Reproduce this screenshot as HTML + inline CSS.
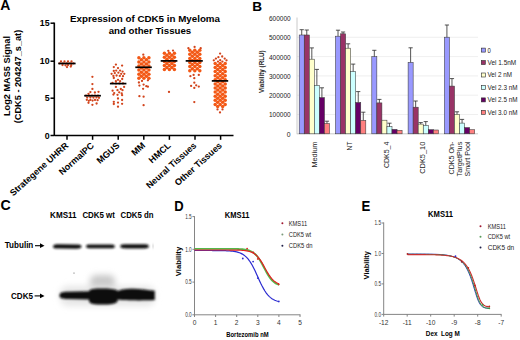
<!DOCTYPE html>
<html><head><meta charset="utf-8"><style>
html,body{margin:0;padding:0;background:#fff;width:520px;height:340px;overflow:hidden}
svg{display:block}
text{font-family:"Liberation Sans",sans-serif}
</style></head><body>
<svg width="520" height="340" viewBox="0 0 520 340">
<rect width="520" height="340" fill="#fff"/>
<text x="0.20" y="10.10" font-size="14" font-weight="bold" >A</text>
<text x="70.00" y="22.00" font-size="9.7" font-weight="bold" textLength="150" lengthAdjust="spacingAndGlyphs" >Expression of CDK5 in Myeloma</text>
<text x="108.70" y="34.00" font-size="9.7" font-weight="bold" textLength="82.5" lengthAdjust="spacingAndGlyphs" >and other Tissues</text>
<text x="10.00" y="76.00" font-size="9.2" font-weight="bold" text-anchor="middle" textLength="80" lengthAdjust="spacingAndGlyphs" transform="rotate(-90 10.00 76.00)" >Log2 MAS5 Signal</text>
<text x="21.00" y="76.50" font-size="9.2" font-weight="bold" text-anchor="middle" textLength="93.5" lengthAdjust="spacingAndGlyphs" transform="rotate(-90 21.00 76.50)" >(CDK5 - 204247_s_at)</text>
<path d="M54.3 22.5V136 M54.3 135.5H233.5" stroke="#000" stroke-width="1.6" fill="none"/>
<path d="M50.5 23.2H54" stroke="#000" stroke-width="1.5"/>
<text x="49.60" y="26.40" font-size="8.8" font-weight="bold" text-anchor="end" >15</text>
<path d="M50.5 61.2H54" stroke="#000" stroke-width="1.5"/>
<text x="49.60" y="64.40" font-size="8.8" font-weight="bold" text-anchor="end" >10</text>
<path d="M50.5 98.2H54" stroke="#000" stroke-width="1.5"/>
<text x="49.60" y="101.40" font-size="8.8" font-weight="bold" text-anchor="end" >5</text>
<path d="M50.5 135.5H54" stroke="#000" stroke-width="1.5"/>
<text x="49.60" y="138.70" font-size="8.8" font-weight="bold" text-anchor="end" >0</text>
<path d="M67.0 135.5V139.8" stroke="#000" stroke-width="1.5"/>
<path d="M92.6 135.5V139.8" stroke="#000" stroke-width="1.5"/>
<path d="M118.2 135.5V139.8" stroke="#000" stroke-width="1.5"/>
<path d="M143.8 135.5V139.8" stroke="#000" stroke-width="1.5"/>
<path d="M169.4 135.5V139.8" stroke="#000" stroke-width="1.5"/>
<path d="M195.0 135.5V139.8" stroke="#000" stroke-width="1.5"/>
<path d="M220.6 135.5V139.8" stroke="#000" stroke-width="1.5"/>
<text x="69.00" y="146.30" font-size="9.0" font-weight="bold" text-anchor="end" transform="rotate(-42 69.00 146.30)" >Strategene UHRR</text>
<text x="94.60" y="146.30" font-size="9.0" font-weight="bold" text-anchor="end" transform="rotate(-42 94.60 146.30)" >NormalPC</text>
<text x="120.20" y="146.30" font-size="9.0" font-weight="bold" text-anchor="end" transform="rotate(-42 120.20 146.30)" >MGUS</text>
<text x="145.80" y="146.30" font-size="9.0" font-weight="bold" text-anchor="end" transform="rotate(-42 145.80 146.30)" >MM</text>
<text x="171.40" y="146.30" font-size="9.0" font-weight="bold" text-anchor="end" transform="rotate(-42 171.40 146.30)" >HMCL</text>
<text x="197.00" y="146.30" font-size="9.0" font-weight="bold" text-anchor="end" transform="rotate(-42 197.00 146.30)" >Neural Tissues</text>
<text x="222.60" y="146.30" font-size="9.0" font-weight="bold" text-anchor="end" transform="rotate(-42 222.60 146.30)" >Other Tissues</text>
<g fill="#f35815">
<circle cx="138.90" cy="57.80" r="1.75"/>
<circle cx="143.90" cy="57.80" r="1.75"/>
<circle cx="148.90" cy="57.80" r="1.75"/>
<circle cx="141.40" cy="59.85" r="1.75"/>
<circle cx="146.40" cy="59.85" r="1.75"/>
<circle cx="138.90" cy="61.90" r="1.75"/>
<circle cx="143.90" cy="61.90" r="1.75"/>
<circle cx="148.90" cy="61.90" r="1.75"/>
<circle cx="141.40" cy="63.95" r="1.75"/>
<circle cx="146.40" cy="63.95" r="1.75"/>
<circle cx="138.90" cy="66.00" r="1.75"/>
<circle cx="143.90" cy="66.00" r="1.75"/>
<circle cx="148.90" cy="66.00" r="1.75"/>
<circle cx="141.40" cy="68.05" r="1.75"/>
<circle cx="146.40" cy="68.05" r="1.75"/>
<circle cx="138.90" cy="70.10" r="1.75"/>
<circle cx="143.90" cy="70.10" r="1.75"/>
<circle cx="148.90" cy="70.10" r="1.75"/>
<circle cx="141.40" cy="72.15" r="1.75"/>
<circle cx="146.40" cy="72.15" r="1.75"/>
<circle cx="138.90" cy="74.20" r="1.75"/>
<circle cx="143.90" cy="74.20" r="1.75"/>
<circle cx="148.90" cy="74.20" r="1.75"/>
<circle cx="141.40" cy="76.25" r="1.75"/>
<circle cx="146.40" cy="76.25" r="1.75"/>
<circle cx="138.90" cy="78.30" r="1.75"/>
<circle cx="143.90" cy="78.30" r="1.75"/>
<circle cx="148.90" cy="78.30" r="1.75"/>
<circle cx="164.40" cy="53.20" r="1.75"/>
<circle cx="169.40" cy="53.20" r="1.75"/>
<circle cx="174.40" cy="53.20" r="1.75"/>
<circle cx="166.90" cy="55.25" r="1.75"/>
<circle cx="171.90" cy="55.25" r="1.75"/>
<circle cx="164.40" cy="57.30" r="1.75"/>
<circle cx="169.40" cy="57.30" r="1.75"/>
<circle cx="174.40" cy="57.30" r="1.75"/>
<circle cx="166.90" cy="59.35" r="1.75"/>
<circle cx="171.90" cy="59.35" r="1.75"/>
<circle cx="164.40" cy="61.40" r="1.75"/>
<circle cx="169.40" cy="61.40" r="1.75"/>
<circle cx="174.40" cy="61.40" r="1.75"/>
<circle cx="166.90" cy="63.45" r="1.75"/>
<circle cx="171.90" cy="63.45" r="1.75"/>
<circle cx="164.40" cy="65.50" r="1.75"/>
<circle cx="169.40" cy="65.50" r="1.75"/>
<circle cx="174.40" cy="65.50" r="1.75"/>
<circle cx="166.90" cy="67.55" r="1.75"/>
<circle cx="171.90" cy="67.55" r="1.75"/>
<circle cx="164.40" cy="69.60" r="1.75"/>
<circle cx="169.40" cy="69.60" r="1.75"/>
<circle cx="174.40" cy="69.60" r="1.75"/>
<circle cx="189.80" cy="50.20" r="1.75"/>
<circle cx="194.80" cy="50.20" r="1.75"/>
<circle cx="199.80" cy="50.20" r="1.75"/>
<circle cx="192.30" cy="52.25" r="1.75"/>
<circle cx="197.30" cy="52.25" r="1.75"/>
<circle cx="189.80" cy="54.30" r="1.75"/>
<circle cx="194.80" cy="54.30" r="1.75"/>
<circle cx="199.80" cy="54.30" r="1.75"/>
<circle cx="192.30" cy="56.35" r="1.75"/>
<circle cx="197.30" cy="56.35" r="1.75"/>
<circle cx="189.80" cy="58.40" r="1.75"/>
<circle cx="194.80" cy="58.40" r="1.75"/>
<circle cx="199.80" cy="58.40" r="1.75"/>
<circle cx="192.30" cy="60.45" r="1.75"/>
<circle cx="197.30" cy="60.45" r="1.75"/>
<circle cx="189.80" cy="62.50" r="1.75"/>
<circle cx="194.80" cy="62.50" r="1.75"/>
<circle cx="199.80" cy="62.50" r="1.75"/>
<circle cx="192.30" cy="64.55" r="1.75"/>
<circle cx="197.30" cy="64.55" r="1.75"/>
<circle cx="189.80" cy="66.60" r="1.75"/>
<circle cx="194.80" cy="66.60" r="1.75"/>
<circle cx="199.80" cy="66.60" r="1.75"/>
<circle cx="192.30" cy="68.65" r="1.75"/>
<circle cx="197.30" cy="68.65" r="1.75"/>
<circle cx="189.80" cy="70.70" r="1.75"/>
<circle cx="194.80" cy="70.70" r="1.75"/>
<circle cx="199.80" cy="70.70" r="1.75"/>
<circle cx="215.20" cy="63.40" r="1.75"/>
<circle cx="220.20" cy="63.40" r="1.75"/>
<circle cx="225.20" cy="63.40" r="1.75"/>
<circle cx="217.70" cy="65.45" r="1.75"/>
<circle cx="222.70" cy="65.45" r="1.75"/>
<circle cx="215.20" cy="67.50" r="1.75"/>
<circle cx="220.20" cy="67.50" r="1.75"/>
<circle cx="225.20" cy="67.50" r="1.75"/>
<circle cx="217.70" cy="69.55" r="1.75"/>
<circle cx="222.70" cy="69.55" r="1.75"/>
<circle cx="215.20" cy="71.60" r="1.75"/>
<circle cx="220.20" cy="71.60" r="1.75"/>
<circle cx="225.20" cy="71.60" r="1.75"/>
<circle cx="217.70" cy="73.65" r="1.75"/>
<circle cx="222.70" cy="73.65" r="1.75"/>
<circle cx="215.20" cy="75.70" r="1.75"/>
<circle cx="220.20" cy="75.70" r="1.75"/>
<circle cx="225.20" cy="75.70" r="1.75"/>
<circle cx="217.70" cy="77.75" r="1.75"/>
<circle cx="222.70" cy="77.75" r="1.75"/>
<circle cx="215.20" cy="79.80" r="1.75"/>
<circle cx="220.20" cy="79.80" r="1.75"/>
<circle cx="225.20" cy="79.80" r="1.75"/>
<circle cx="217.70" cy="81.85" r="1.75"/>
<circle cx="222.70" cy="81.85" r="1.75"/>
<circle cx="215.20" cy="83.90" r="1.75"/>
<circle cx="220.20" cy="83.90" r="1.75"/>
<circle cx="225.20" cy="83.90" r="1.75"/>
<circle cx="217.70" cy="85.95" r="1.75"/>
<circle cx="222.70" cy="85.95" r="1.75"/>
<circle cx="215.20" cy="88.00" r="1.75"/>
<circle cx="220.20" cy="88.00" r="1.75"/>
<circle cx="225.20" cy="88.00" r="1.75"/>
<circle cx="217.70" cy="90.05" r="1.75"/>
<circle cx="222.70" cy="90.05" r="1.75"/>
<circle cx="215.20" cy="92.10" r="1.75"/>
<circle cx="220.20" cy="92.10" r="1.75"/>
<circle cx="225.20" cy="92.10" r="1.75"/>
<circle cx="217.70" cy="94.15" r="1.75"/>
<circle cx="222.70" cy="94.15" r="1.75"/>
<circle cx="215.20" cy="96.20" r="1.75"/>
<circle cx="220.20" cy="96.20" r="1.75"/>
<circle cx="225.20" cy="96.20" r="1.75"/>
<circle cx="217.70" cy="98.25" r="1.75"/>
<circle cx="222.70" cy="98.25" r="1.75"/>
<circle cx="215.20" cy="100.30" r="1.75"/>
<circle cx="220.20" cy="100.30" r="1.75"/>
<circle cx="225.20" cy="100.30" r="1.75"/>
<circle cx="217.70" cy="102.35" r="1.75"/>
<circle cx="222.70" cy="102.35" r="1.75"/>
<circle cx="215.20" cy="104.40" r="1.75"/>
<circle cx="220.20" cy="104.40" r="1.75"/>
<circle cx="225.20" cy="104.40" r="1.75"/>
<circle cx="217.70" cy="106.45" r="1.75"/>
<circle cx="222.70" cy="106.45" r="1.75"/>
</g>
<g fill="#d2441c">
<circle cx="61.00" cy="61.50" r="1.15"/>
<circle cx="64.50" cy="61.50" r="1.15"/>
<circle cx="68.00" cy="61.50" r="1.15"/>
<circle cx="71.50" cy="61.50" r="1.15"/>
<circle cx="59.50" cy="63.30" r="1.15"/>
<circle cx="63.00" cy="63.30" r="1.15"/>
<circle cx="66.50" cy="63.30" r="1.15"/>
<circle cx="70.00" cy="63.30" r="1.15"/>
<circle cx="73.50" cy="63.30" r="1.15"/>
<circle cx="62.50" cy="65.10" r="1.15"/>
<circle cx="65.50" cy="65.30" r="1.15"/>
<circle cx="68.00" cy="65.10" r="1.15"/>
<circle cx="71.30" cy="65.10" r="1.15"/>
<circle cx="67.00" cy="67.10" r="1.15"/>
<circle cx="70.80" cy="66.50" r="1.15"/>
<circle cx="92.40" cy="76.80" r="1.15"/>
<circle cx="92.40" cy="84.10" r="1.15"/>
<circle cx="92.40" cy="88.90" r="1.15"/>
<circle cx="90.40" cy="92.10" r="1.15"/>
<circle cx="94.90" cy="92.50" r="1.15"/>
<circle cx="98.50" cy="91.80" r="1.15"/>
<circle cx="88.50" cy="93.80" r="1.15"/>
<circle cx="86.00" cy="95.60" r="1.15"/>
<circle cx="89.00" cy="95.60" r="1.15"/>
<circle cx="92.00" cy="95.60" r="1.15"/>
<circle cx="95.00" cy="95.60" r="1.15"/>
<circle cx="98.00" cy="95.60" r="1.15"/>
<circle cx="87.20" cy="97.60" r="1.15"/>
<circle cx="90.40" cy="97.40" r="1.15"/>
<circle cx="93.40" cy="97.60" r="1.15"/>
<circle cx="96.50" cy="97.40" r="1.15"/>
<circle cx="99.00" cy="97.80" r="1.15"/>
<circle cx="90.40" cy="99.90" r="1.15"/>
<circle cx="95.00" cy="99.90" r="1.15"/>
<circle cx="86.80" cy="99.80" r="1.15"/>
<circle cx="88.80" cy="100.80" r="1.15"/>
<circle cx="92.60" cy="100.60" r="1.15"/>
<circle cx="97.60" cy="100.20" r="1.15"/>
<circle cx="88.50" cy="102.80" r="1.15"/>
<circle cx="92.40" cy="104.80" r="1.15"/>
<circle cx="96.60" cy="103.50" r="1.15"/>
<circle cx="115.90" cy="64.60" r="1.15"/>
<circle cx="122.10" cy="65.60" r="1.15"/>
<circle cx="113.80" cy="67.10" r="1.15"/>
<circle cx="118.00" cy="68.10" r="1.15"/>
<circle cx="113.80" cy="70.90" r="1.15"/>
<circle cx="116.20" cy="70.60" r="1.15"/>
<circle cx="120.10" cy="70.60" r="1.15"/>
<circle cx="122.60" cy="71.60" r="1.15"/>
<circle cx="111.60" cy="73.80" r="1.15"/>
<circle cx="114.80" cy="73.10" r="1.15"/>
<circle cx="118.40" cy="72.70" r="1.15"/>
<circle cx="121.20" cy="73.80" r="1.15"/>
<circle cx="124.30" cy="73.80" r="1.15"/>
<circle cx="113.40" cy="75.90" r="1.15"/>
<circle cx="116.60" cy="75.50" r="1.15"/>
<circle cx="119.80" cy="75.90" r="1.15"/>
<circle cx="123.00" cy="76.20" r="1.15"/>
<circle cx="113.80" cy="78.00" r="1.15"/>
<circle cx="118.00" cy="79.80" r="1.15"/>
<circle cx="122.20" cy="79.00" r="1.15"/>
<circle cx="115.90" cy="81.20" r="1.15"/>
<circle cx="120.10" cy="81.20" r="1.15"/>
<circle cx="112.50" cy="83.00" r="1.15"/>
<circle cx="116.00" cy="83.40" r="1.15"/>
<circle cx="119.50" cy="83.40" r="1.15"/>
<circle cx="123.00" cy="83.40" r="1.15"/>
<circle cx="115.90" cy="86.90" r="1.15"/>
<circle cx="124.10" cy="86.90" r="1.15"/>
<circle cx="112.60" cy="90.70" r="1.15"/>
<circle cx="117.50" cy="90.20" r="1.15"/>
<circle cx="120.80" cy="89.00" r="1.15"/>
<circle cx="122.50" cy="90.20" r="1.15"/>
<circle cx="114.20" cy="93.10" r="1.15"/>
<circle cx="119.20" cy="92.30" r="1.15"/>
<circle cx="121.70" cy="93.50" r="1.15"/>
<circle cx="113.40" cy="94.60" r="1.15"/>
<circle cx="117.50" cy="94.80" r="1.15"/>
<circle cx="122.10" cy="95.20" r="1.15"/>
<circle cx="118.00" cy="98.50" r="1.15"/>
<circle cx="122.10" cy="100.00" r="1.15"/>
<circle cx="113.80" cy="101.80" r="1.15"/>
<circle cx="118.00" cy="102.60" r="1.15"/>
<circle cx="122.10" cy="103.80" r="1.15"/>
<circle cx="113.80" cy="104.00" r="1.15"/>
<circle cx="118.00" cy="106.70" r="1.15"/>
<circle cx="143.30" cy="54.70" r="1.15"/>
<circle cx="138.90" cy="82.50" r="1.15"/>
<circle cx="142.00" cy="80.90" r="1.15"/>
<circle cx="147.90" cy="80.30" r="1.15"/>
<circle cx="139.40" cy="85.60" r="1.15"/>
<circle cx="143.60" cy="84.60" r="1.15"/>
<circle cx="146.30" cy="86.20" r="1.15"/>
<circle cx="147.90" cy="86.70" r="1.15"/>
<circle cx="143.10" cy="88.80" r="1.15"/>
<circle cx="139.40" cy="96.20" r="1.15"/>
<circle cx="143.60" cy="96.70" r="1.15"/>
<circle cx="143.60" cy="105.20" r="1.15"/>
<circle cx="168.30" cy="50.80" r="1.15"/>
<circle cx="173.00" cy="50.60" r="1.15"/>
<circle cx="169.00" cy="91.90" r="1.15"/>
<circle cx="188.40" cy="48.20" r="1.15"/>
<circle cx="194.60" cy="46.90" r="1.15"/>
<circle cx="200.70" cy="48.20" r="1.15"/>
<circle cx="190.40" cy="76.20" r="1.15"/>
<circle cx="193.60" cy="74.90" r="1.15"/>
<circle cx="198.80" cy="74.90" r="1.15"/>
<circle cx="194.30" cy="78.20" r="1.15"/>
<circle cx="194.30" cy="82.70" r="1.15"/>
<circle cx="191.10" cy="85.90" r="1.15"/>
<circle cx="196.20" cy="85.30" r="1.15"/>
<circle cx="198.80" cy="86.60" r="1.15"/>
<circle cx="194.30" cy="87.90" r="1.15"/>
<circle cx="194.30" cy="102.10" r="1.15"/>
<circle cx="220.10" cy="53.60" r="1.15"/>
<circle cx="222.20" cy="56.50" r="1.15"/>
<circle cx="218.40" cy="57.20" r="1.15"/>
<circle cx="224.70" cy="58.60" r="1.15"/>
<circle cx="215.90" cy="58.60" r="1.15"/>
<circle cx="213.80" cy="60.30" r="1.15"/>
<circle cx="226.50" cy="60.30" r="1.15"/>
<circle cx="220.20" cy="60.20" r="1.15"/>
<circle cx="218.00" cy="61.60" r="1.15"/>
<circle cx="222.40" cy="61.60" r="1.15"/>
<circle cx="220.00" cy="112.40" r="1.15"/>
<circle cx="217.50" cy="109.40" r="1.15"/>
<circle cx="222.50" cy="109.40" r="1.15"/>
</g>
<path d="M58.3 63.5H75.6" stroke="#000" stroke-width="1.7"/>
<path d="M84.2 95.7H100.9" stroke="#000" stroke-width="1.7"/>
<path d="M109.9 83.6H126.4" stroke="#000" stroke-width="1.7"/>
<path d="M135.3 67.3H151.8" stroke="#000" stroke-width="1.7"/>
<path d="M160.7 60.9H177.4" stroke="#000" stroke-width="1.7"/>
<path d="M185.7 60.9H202.8" stroke="#000" stroke-width="1.7"/>
<path d="M211.8 80.9H228.2" stroke="#000" stroke-width="1.7"/>
<text x="252.20" y="10.60" font-size="13.6" font-weight="bold" >B</text>
<path d="M297 114.5H478" stroke="#ebebeb" stroke-width="0.8"/>
<path d="M297 95.2H478" stroke="#ebebeb" stroke-width="0.8"/>
<path d="M297 75.9H478" stroke="#ebebeb" stroke-width="0.8"/>
<path d="M297 56.6H478" stroke="#ebebeb" stroke-width="0.8"/>
<path d="M297 37.3H478" stroke="#ebebeb" stroke-width="0.8"/>
<path d="M297 17.5V134.20000000000002 M297 133.8H478" stroke="#bdbdbd" stroke-width="0.8" fill="none"/>
<text x="290.60" y="136.70" font-size="6.8" fill="#222" text-anchor="end" >0</text>
<text x="290.60" y="117.40" font-size="6.8" fill="#222" text-anchor="end" textLength="21.6" lengthAdjust="spacingAndGlyphs" >100000</text>
<text x="290.60" y="98.10" font-size="6.8" fill="#222" text-anchor="end" textLength="21.6" lengthAdjust="spacingAndGlyphs" >200000</text>
<text x="290.60" y="78.80" font-size="6.8" fill="#222" text-anchor="end" textLength="21.6" lengthAdjust="spacingAndGlyphs" >300000</text>
<text x="290.60" y="59.50" font-size="6.8" fill="#222" text-anchor="end" textLength="21.6" lengthAdjust="spacingAndGlyphs" >400000</text>
<text x="290.60" y="40.20" font-size="6.8" fill="#222" text-anchor="end" textLength="21.6" lengthAdjust="spacingAndGlyphs" >500000</text>
<text x="290.60" y="20.90" font-size="6.8" fill="#222" text-anchor="end" textLength="21.6" lengthAdjust="spacingAndGlyphs" >600000</text>
<text x="264.30" y="71.70" font-size="6.5" font-weight="bold" fill="#222" text-anchor="middle" textLength="42.8" lengthAdjust="spacingAndGlyphs" transform="rotate(-90 264.30 71.70)" >Viability (RLU)</text>
<rect x="299.20" y="35" width="5.05" height="98.80" fill="#9999ff" stroke="#3a3a3a" stroke-width="0.55"/>
<rect x="304.25" y="35" width="5.05" height="98.80" fill="#993366" stroke="#3a3a3a" stroke-width="0.55"/>
<rect x="309.30" y="59.2" width="5.05" height="74.60" fill="#ffffcc" stroke="#3a3a3a" stroke-width="0.55"/>
<rect x="314.35" y="85.4" width="5.05" height="48.40" fill="#ccffff" stroke="#3a3a3a" stroke-width="0.55"/>
<rect x="319.40" y="97.6" width="5.05" height="36.20" fill="#660066" stroke="#3a3a3a" stroke-width="0.55"/>
<rect x="324.45" y="123.5" width="5.05" height="10.30" fill="#ff8080" stroke="#3a3a3a" stroke-width="0.55"/>
<path d="M301.72 35V29.7 M299.62 29.7H303.82" stroke="#2a2a2a" stroke-width="0.8" fill="none"/>
<path d="M306.77 35V30 M304.67 30H308.88" stroke="#2a2a2a" stroke-width="0.8" fill="none"/>
<path d="M311.82 59.2V47.9 M309.72 47.9H313.93" stroke="#2a2a2a" stroke-width="0.8" fill="none"/>
<path d="M316.87 85.4V69.4 M314.77 69.4H318.97" stroke="#2a2a2a" stroke-width="0.8" fill="none"/>
<path d="M321.92 97.6V87.8 M319.82 87.8H324.02" stroke="#2a2a2a" stroke-width="0.8" fill="none"/>
<path d="M326.97 123.5V121.2 M324.87 121.2H329.07" stroke="#2a2a2a" stroke-width="0.8" fill="none"/>
<rect x="335.50" y="36.2" width="5.05" height="97.60" fill="#9999ff" stroke="#3a3a3a" stroke-width="0.55"/>
<rect x="340.55" y="33.8" width="5.05" height="100.00" fill="#993366" stroke="#3a3a3a" stroke-width="0.55"/>
<rect x="345.60" y="48.2" width="5.05" height="85.60" fill="#ffffcc" stroke="#3a3a3a" stroke-width="0.55"/>
<rect x="350.65" y="71.5" width="5.05" height="62.30" fill="#ccffff" stroke="#3a3a3a" stroke-width="0.55"/>
<rect x="355.70" y="102.5" width="5.05" height="31.30" fill="#660066" stroke="#3a3a3a" stroke-width="0.55"/>
<rect x="360.75" y="120.4" width="5.05" height="13.40" fill="#ff8080" stroke="#3a3a3a" stroke-width="0.55"/>
<path d="M338.02 36.2V30.2 M335.92 30.2H340.12" stroke="#2a2a2a" stroke-width="0.8" fill="none"/>
<path d="M343.07 33.8V32 M340.97 32H345.18" stroke="#2a2a2a" stroke-width="0.8" fill="none"/>
<path d="M348.12 48.2V43.8 M346.02 43.8H350.23" stroke="#2a2a2a" stroke-width="0.8" fill="none"/>
<path d="M353.17 71.5V64.1 M351.07 64.1H355.27" stroke="#2a2a2a" stroke-width="0.8" fill="none"/>
<path d="M358.22 102.5V91.6 M356.12 91.6H360.32" stroke="#2a2a2a" stroke-width="0.8" fill="none"/>
<path d="M363.27 120.4V112.2 M361.17 112.2H365.38" stroke="#2a2a2a" stroke-width="0.8" fill="none"/>
<rect x="371.80" y="56.7" width="5.05" height="77.10" fill="#9999ff" stroke="#3a3a3a" stroke-width="0.55"/>
<rect x="376.85" y="102.9" width="5.05" height="30.90" fill="#993366" stroke="#3a3a3a" stroke-width="0.55"/>
<rect x="381.90" y="120.2" width="5.05" height="13.60" fill="#ffffcc" stroke="#3a3a3a" stroke-width="0.55"/>
<rect x="386.95" y="126.7" width="5.05" height="7.10" fill="#ccffff" stroke="#3a3a3a" stroke-width="0.55"/>
<rect x="392.00" y="129.4" width="5.05" height="4.40" fill="#660066" stroke="#3a3a3a" stroke-width="0.55"/>
<rect x="397.05" y="130.3" width="5.05" height="3.50" fill="#ff8080" stroke="#3a3a3a" stroke-width="0.55"/>
<path d="M374.32 56.7V50.3 M372.22 50.3H376.42" stroke="#2a2a2a" stroke-width="0.8" fill="none"/>
<path d="M379.37 102.9V99.4 M377.27 99.4H381.47" stroke="#2a2a2a" stroke-width="0.8" fill="none"/>
<path d="M389.47 126.7V123.2 M387.37 123.2H391.57" stroke="#2a2a2a" stroke-width="0.8" fill="none"/>
<rect x="408.10" y="62.4" width="5.05" height="71.40" fill="#9999ff" stroke="#3a3a3a" stroke-width="0.55"/>
<rect x="413.15" y="107.2" width="5.05" height="26.60" fill="#993366" stroke="#3a3a3a" stroke-width="0.55"/>
<rect x="418.20" y="124.1" width="5.05" height="9.70" fill="#ffffcc" stroke="#3a3a3a" stroke-width="0.55"/>
<rect x="423.25" y="125.3" width="5.05" height="8.50" fill="#ccffff" stroke="#3a3a3a" stroke-width="0.55"/>
<rect x="428.30" y="129.7" width="5.05" height="4.10" fill="#660066" stroke="#3a3a3a" stroke-width="0.55"/>
<rect x="433.35" y="130" width="5.05" height="3.80" fill="#ff8080" stroke="#3a3a3a" stroke-width="0.55"/>
<path d="M410.62 62.4V47.8 M408.52 47.8H412.72" stroke="#2a2a2a" stroke-width="0.8" fill="none"/>
<path d="M415.67 107.2V101 M413.57 101H417.77" stroke="#2a2a2a" stroke-width="0.8" fill="none"/>
<path d="M420.72 124.1V122.6 M418.62 122.6H422.82" stroke="#2a2a2a" stroke-width="0.8" fill="none"/>
<path d="M425.77 125.3V121.6 M423.67 121.6H427.87" stroke="#2a2a2a" stroke-width="0.8" fill="none"/>
<rect x="444.40" y="37.2" width="5.05" height="96.60" fill="#9999ff" stroke="#3a3a3a" stroke-width="0.55"/>
<rect x="449.45" y="86.1" width="5.05" height="47.70" fill="#993366" stroke="#3a3a3a" stroke-width="0.55"/>
<rect x="454.50" y="114.3" width="5.05" height="19.50" fill="#ffffcc" stroke="#3a3a3a" stroke-width="0.55"/>
<rect x="459.55" y="123.1" width="5.05" height="10.70" fill="#ccffff" stroke="#3a3a3a" stroke-width="0.55"/>
<rect x="464.60" y="127.6" width="5.05" height="6.20" fill="#660066" stroke="#3a3a3a" stroke-width="0.55"/>
<rect x="469.65" y="129.7" width="5.05" height="4.10" fill="#ff8080" stroke="#3a3a3a" stroke-width="0.55"/>
<path d="M446.92 37.2V25 M444.82 25H449.02" stroke="#2a2a2a" stroke-width="0.8" fill="none"/>
<path d="M451.97 86.1V78.6 M449.87 78.6H454.07" stroke="#2a2a2a" stroke-width="0.8" fill="none"/>
<path d="M457.02 114.3V111.8 M454.92 111.8H459.12" stroke="#2a2a2a" stroke-width="0.8" fill="none"/>
<path d="M462.07 123.1V119.4 M459.97 119.4H464.17" stroke="#2a2a2a" stroke-width="0.8" fill="none"/>
<text x="317.20" y="141.60" font-size="6.9" fill="#222" text-anchor="end" textLength="26" lengthAdjust="spacingAndGlyphs" transform="rotate(-90 317.20 141.60)" >Medium</text>
<text x="352.50" y="141.60" font-size="6.9" fill="#222" text-anchor="end" textLength="8.8" lengthAdjust="spacingAndGlyphs" transform="rotate(-90 352.50 141.60)" >NT</text>
<text x="389.10" y="141.60" font-size="6.9" fill="#222" text-anchor="end" textLength="26.4" lengthAdjust="spacingAndGlyphs" transform="rotate(-90 389.10 141.60)" >CDK5_4</text>
<text x="425.10" y="141.60" font-size="6.9" fill="#222" text-anchor="end" textLength="32.2" lengthAdjust="spacingAndGlyphs" transform="rotate(-90 425.10 141.60)" >CDK5_10</text>
<text x="453.70" y="141.60" font-size="6.9" fill="#222" text-anchor="end" textLength="32.8" lengthAdjust="spacingAndGlyphs" transform="rotate(-90 453.70 141.60)" >CDK5 On-</text>
<text x="461.70" y="141.60" font-size="6.9" fill="#222" text-anchor="end" textLength="34.9" lengthAdjust="spacingAndGlyphs" transform="rotate(-90 461.70 141.60)" >TargetPlus</text>
<text x="469.70" y="141.60" font-size="6.9" fill="#222" text-anchor="end" textLength="34.9" lengthAdjust="spacingAndGlyphs" transform="rotate(-90 469.70 141.60)" >Smart Pool</text>
<rect x="481.3" y="48.10" width="4" height="4" fill="#9999ff" stroke="#2a2a2a" stroke-width="0.6"/>
<text x="487.50" y="52.50" font-size="6.7" fill="#222" textLength="3.3" lengthAdjust="spacingAndGlyphs" >0</text>
<rect x="481.3" y="60.55" width="4" height="4" fill="#993366" stroke="#2a2a2a" stroke-width="0.6"/>
<text x="487.50" y="64.95" font-size="6.7" fill="#222" textLength="28.7" lengthAdjust="spacingAndGlyphs" >Vel 1.5nM</text>
<rect x="481.3" y="73.00" width="4" height="4" fill="#ffffcc" stroke="#2a2a2a" stroke-width="0.6"/>
<text x="487.50" y="77.40" font-size="6.7" fill="#222" textLength="24.5" lengthAdjust="spacingAndGlyphs" >Vel 2 nM</text>
<rect x="481.3" y="85.45" width="4" height="4" fill="#ccffff" stroke="#2a2a2a" stroke-width="0.6"/>
<text x="487.50" y="89.85" font-size="6.7" fill="#222" textLength="30" lengthAdjust="spacingAndGlyphs" >Vel 2.3 nM</text>
<rect x="481.3" y="97.90" width="4" height="4" fill="#660066" stroke="#2a2a2a" stroke-width="0.6"/>
<text x="487.50" y="102.30" font-size="6.7" fill="#222" textLength="30" lengthAdjust="spacingAndGlyphs" >Vel 2.5 nM</text>
<rect x="481.3" y="110.35" width="4" height="4" fill="#ff8080" stroke="#2a2a2a" stroke-width="0.6"/>
<text x="487.50" y="114.75" font-size="6.7" fill="#222" textLength="30" lengthAdjust="spacingAndGlyphs" >Vel 3.0 nM</text>
<text x="0.50" y="209.90" font-size="14.2" font-weight="bold" >C</text>
<text x="50.10" y="217.80" font-size="8.7" font-weight="bold" textLength="26.5" lengthAdjust="spacingAndGlyphs" >KMS11</text>
<text x="82.40" y="217.80" font-size="8.7" font-weight="bold" textLength="32.5" lengthAdjust="spacingAndGlyphs" >CDK5 wt</text>
<text x="120.50" y="217.80" font-size="8.7" font-weight="bold" textLength="33" lengthAdjust="spacingAndGlyphs" >CDK5 dn</text>
<text x="4.80" y="247.90" font-size="8.6" font-weight="bold" textLength="28.5" lengthAdjust="spacingAndGlyphs" >Tubulin</text>
<path d="M35 245.7H41" stroke="#000" stroke-width="1.1"/><path d="M40 243.3L44.5 245.7L40 248.1Z" fill="#000"/>
<text x="11.00" y="298.90" font-size="8.6" font-weight="bold" textLength="22" lengthAdjust="spacingAndGlyphs" >CDK5</text>
<path d="M34.6 295.9H40.5" stroke="#000" stroke-width="1.1"/><path d="M40 293.5L44.5 295.9L40 298.3Z" fill="#000"/>
<defs>
<filter id="b1" x="-20%" y="-200%" width="140%" height="500%"><feGaussianBlur stdDeviation="0.9"/></filter>
<filter id="b2" x="-30%" y="-200%" width="160%" height="500%"><feGaussianBlur stdDeviation="2.2"/></filter>
<filter id="b3" x="-30%" y="-200%" width="160%" height="500%"><feGaussianBlur stdDeviation="1.2"/></filter>
<filter id="b4" x="-50%" y="-200%" width="200%" height="500%"><feGaussianBlur stdDeviation="3"/></filter>
</defs>
<g filter="url(#b1)" fill="#111">
<path d="M53 246.5 C53 244.2 56 244.1 60 244.2 L77 244.6 C81 244.7 81.5 245.5 81.5 246.6 C81.5 248 80 248.8 76 248.7 L58 248.6 C54 248.6 53 248 53 246.5Z"/>
<path d="M86 246.4 C86 244.6 88 244.5 92 244.5 L110 244.6 C114 244.6 114.8 245.3 114.8 246.4 C114.8 247.6 114 248.3 110 248.3 L92 248.3 C88 248.3 86 248 86 246.4Z"/>
<path d="M120.2 246.3 C120.2 244.4 123 244.2 127 244.2 L144 244.3 C148 244.3 148.8 245.2 148.8 246.3 C148.8 247.6 148 248.4 144 248.4 L126 248.4 C122 248.4 120.2 248 120.2 246.3Z"/>
</g>
<rect x="152.6" y="244.2" width="1" height="4" fill="#aaa" filter="url(#b1)"/>
<g filter="url(#b4)">
<rect x="90" y="275" width="25" height="16" rx="6" fill="#c8c8c8"/>
<rect x="60" y="286" width="95" height="20" rx="8" fill="#e6e6e6"/>
</g>
<g filter="url(#b3)" fill="#0c0c0c">
<path d="M59.5 295.6 C59.5 292.6 62 291.8 68 291.8 L91 291.2 L91 299.6 L68 299 C62 299 59.5 298.6 59.5 295.6Z"/>
<path d="M89 292 C89 289.5 92 288.8 100 288.6 C108 288.5 115 289 117.5 290.5 L117.5 301.5 C116 304 110 304.5 103 304.5 C95 304.5 89 304 89 301Z"/>
<path d="M116 292 C120 289.5 126 288.5 133 288.8 C140 289.2 148 290 154.8 290.8 L154.8 300 C148 300.3 140 300.5 132 300.3 C124 300 119 299.8 116 299.5Z"/>
</g>
<circle cx="74" cy="273" r="0.6" fill="#555"/>
<text x="174.30" y="210.90" font-size="14.6" font-weight="bold" textLength="9.4" lengthAdjust="spacingAndGlyphs" >D</text>
<path d="M194.5 216.2V314.8 H300.5" stroke="#777" stroke-width="0.9" fill="none"/>
<path d="M192.4 314.8H194.5" stroke="#777" stroke-width="0.9"/>
<text x="191.70" y="317.10" font-size="6.6" fill="#333" text-anchor="end" textLength="6.5" lengthAdjust="spacingAndGlyphs" >0.0</text>
<path d="M192.4 282.1H194.5" stroke="#777" stroke-width="0.9"/>
<text x="191.70" y="284.35" font-size="6.6" fill="#333" text-anchor="end" textLength="6.5" lengthAdjust="spacingAndGlyphs" >0.5</text>
<path d="M192.4 249.3H194.5" stroke="#777" stroke-width="0.9"/>
<text x="191.70" y="251.60" font-size="6.6" fill="#333" text-anchor="end" textLength="6.5" lengthAdjust="spacingAndGlyphs" >1.0</text>
<path d="M192.4 216.6H194.5" stroke="#777" stroke-width="0.9"/>
<text x="191.70" y="218.85" font-size="6.6" fill="#333" text-anchor="end" textLength="6.5" lengthAdjust="spacingAndGlyphs" >1.5</text>
<path d="M194.5 314.8V317.0" stroke="#777" stroke-width="0.9"/>
<text x="194.50" y="325.20" font-size="6.6" fill="#333" text-anchor="middle" >0</text>
<path d="M215.6 314.8V317.0" stroke="#777" stroke-width="0.9"/>
<text x="215.60" y="325.20" font-size="6.6" fill="#333" text-anchor="middle" >1</text>
<path d="M236.7 314.8V317.0" stroke="#777" stroke-width="0.9"/>
<text x="236.70" y="325.20" font-size="6.6" fill="#333" text-anchor="middle" >2</text>
<path d="M257.8 314.8V317.0" stroke="#777" stroke-width="0.9"/>
<text x="257.80" y="325.20" font-size="6.6" fill="#333" text-anchor="middle" >3</text>
<path d="M278.9 314.8V317.0" stroke="#777" stroke-width="0.9"/>
<text x="278.90" y="325.20" font-size="6.6" fill="#333" text-anchor="middle" >4</text>
<path d="M300.0 314.8V317.0" stroke="#777" stroke-width="0.9"/>
<text x="300.00" y="325.20" font-size="6.6" fill="#333" text-anchor="middle" >5</text>
<text x="224.70" y="217.90" font-size="8.2" font-weight="bold" textLength="24.7" lengthAdjust="spacingAndGlyphs" >KMS11</text>
<text x="181.40" y="261.50" font-size="7" font-weight="bold" text-anchor="middle" textLength="29.4" lengthAdjust="spacingAndGlyphs" transform="rotate(-90 181.40 261.50)" >Viability</text>
<text x="226.30" y="336.50" font-size="8" font-weight="bold" textLength="42.3" lengthAdjust="spacingAndGlyphs" >Bortezomib nM</text>
<polyline points="194.50,250.50 195.91,250.50 197.32,250.50 198.72,250.50 200.13,250.50 201.54,250.50 202.95,250.50 204.36,250.51 205.77,250.51 207.18,250.51 208.58,250.51 209.99,250.52 211.40,250.52 212.81,250.53 214.22,250.53 215.62,250.54 217.03,250.55 218.44,250.57 219.85,250.59 221.26,250.61 222.67,250.64 224.07,250.67 225.48,250.72 226.89,250.78 228.30,250.85 229.71,250.95 231.12,251.07 232.53,251.22 233.93,251.41 235.34,251.65 236.75,251.95 238.16,252.33 239.57,252.80 240.97,253.39 242.38,254.11 243.79,255.01 245.20,256.09 246.61,257.40 248.02,258.96 249.43,260.79 250.83,262.91 252.24,265.32 253.65,267.98 255.06,270.86 256.47,273.91 257.88,277.03 259.28,280.14 260.69,283.16 262.10,286.01 263.51,288.63 264.92,290.98 266.32,293.05 267.73,294.84 269.14,296.35 270.55,297.62 271.96,298.67 273.37,299.53 274.77,300.22 276.18,300.79 277.59,301.24 279.00,301.61" fill="none" stroke="#2b2bd0" stroke-width="1.2"/>
<polyline points="194.50,248.80 195.91,248.80 197.32,248.80 198.72,248.80 200.13,248.80 201.54,248.80 202.95,248.80 204.36,248.80 205.77,248.80 207.18,248.80 208.58,248.80 209.99,248.80 211.40,248.80 212.81,248.80 214.22,248.80 215.62,248.80 217.03,248.80 218.44,248.80 219.85,248.80 221.26,248.81 222.67,248.81 224.07,248.81 225.48,248.81 226.89,248.82 228.30,248.83 229.71,248.83 231.12,248.85 232.53,248.86 233.93,248.88 235.34,248.91 236.75,248.94 238.16,248.99 239.57,249.06 240.97,249.14 242.38,249.25 243.79,249.40 245.20,249.60 246.61,249.85 248.02,250.19 249.43,250.63 250.83,251.20 252.24,251.94 253.65,252.87 255.06,254.03 256.47,255.47 257.88,257.20 259.28,259.22 260.69,261.52 262.10,264.04 263.51,266.71 264.92,269.41 266.32,272.04 267.73,274.50 269.14,276.72 270.55,278.66 271.96,280.29 273.37,281.64 274.77,282.74 276.18,283.60 277.59,284.28 279.00,284.81" fill="none" stroke="#55b84a" stroke-width="1.8"/>
<polyline points="194.50,250.00 195.91,250.00 197.32,250.00 198.72,250.00 200.13,250.00 201.54,250.00 202.95,250.00 204.36,250.00 205.77,250.00 207.18,250.00 208.58,250.00 209.99,250.00 211.40,250.00 212.81,250.00 214.22,250.00 215.62,250.00 217.03,250.00 218.44,250.00 219.85,250.00 221.26,250.00 222.67,250.01 224.07,250.01 225.48,250.01 226.89,250.02 228.30,250.02 229.71,250.03 231.12,250.04 232.53,250.05 233.93,250.06 235.34,250.09 236.75,250.11 238.16,250.15 239.57,250.20 240.97,250.27 242.38,250.36 243.79,250.48 245.20,250.63 246.61,250.84 248.02,251.11 249.43,251.46 250.83,251.92 252.24,252.51 253.65,253.27 255.06,254.24 256.47,255.43 257.88,256.89 259.28,258.63 260.69,260.65 262.10,262.92 263.51,265.38 264.92,267.93 266.32,270.48 267.73,272.94 269.14,275.20 270.55,277.21 271.96,278.95 273.37,280.40 274.77,281.59 276.18,282.55 277.59,283.30 279.00,283.89" fill="none" stroke="#e02020" stroke-width="1.2"/>
<circle cx="247.1" cy="248.6" r="0.9" fill="#e02020"/>
<circle cx="253.3" cy="252.4" r="0.9" fill="#e02020"/>
<circle cx="257.8" cy="258.9" r="0.9" fill="#e02020"/>
<circle cx="278.8" cy="284.3" r="0.9" fill="#e02020"/>
<circle cx="242.8" cy="258.5" r="0.9" fill="#2b2bd0"/>
<circle cx="253.1" cy="261.6" r="0.9" fill="#2b2bd0"/>
<circle cx="257.8" cy="278.1" r="0.9" fill="#2b2bd0"/>
<circle cx="278.8" cy="301.4" r="0.9" fill="#2b2bd0"/>
<circle cx="282.4" cy="223.2" r="1.0" fill="#a01830"/>
<text x="288.80" y="225.50" font-size="6.6" fill="#222" textLength="18.3" lengthAdjust="spacingAndGlyphs" >KMS11</text>
<circle cx="282.4" cy="234.5" r="1.0" fill="#7a9a7a"/>
<text x="288.80" y="236.80" font-size="6.6" fill="#222" textLength="22.4" lengthAdjust="spacingAndGlyphs" >CDK5 wt</text>
<circle cx="282.4" cy="245.79999999999998" r="1.0" fill="#202048"/>
<text x="288.80" y="248.10" font-size="6.6" fill="#222" textLength="23.6" lengthAdjust="spacingAndGlyphs" >CDK5 dn</text>
<text x="361.40" y="210.80" font-size="14.6" font-weight="bold" textLength="8.8" lengthAdjust="spacingAndGlyphs" >E</text>
<path d="M383.7 222.4V314.4 H501.5" stroke="#777" stroke-width="0.9" fill="none"/>
<path d="M381.6 314.4H383.7" stroke="#777" stroke-width="0.9"/>
<text x="381.00" y="316.70" font-size="6.6" fill="#333" text-anchor="end" textLength="6.5" lengthAdjust="spacingAndGlyphs" >0.0</text>
<path d="M381.6 283.9H383.7" stroke="#777" stroke-width="0.9"/>
<text x="381.00" y="286.25" font-size="6.6" fill="#333" text-anchor="end" textLength="6.5" lengthAdjust="spacingAndGlyphs" >0.5</text>
<path d="M381.6 253.5H383.7" stroke="#777" stroke-width="0.9"/>
<text x="381.00" y="255.80" font-size="6.6" fill="#333" text-anchor="end" textLength="6.5" lengthAdjust="spacingAndGlyphs" >1.0</text>
<path d="M381.6 223.0H383.7" stroke="#777" stroke-width="0.9"/>
<text x="381.00" y="225.35" font-size="6.6" fill="#333" text-anchor="end" textLength="6.5" lengthAdjust="spacingAndGlyphs" >1.5</text>
<path d="M383.7 314.4V316.59999999999997" stroke="#777" stroke-width="0.9"/>
<text x="383.70" y="324.60" font-size="6.6" fill="#333" text-anchor="middle" >-12</text>
<path d="M407.2 314.4V316.59999999999997" stroke="#777" stroke-width="0.9"/>
<text x="407.20" y="324.60" font-size="6.6" fill="#333" text-anchor="middle" >-11</text>
<path d="M430.7 314.4V316.59999999999997" stroke="#777" stroke-width="0.9"/>
<text x="430.70" y="324.60" font-size="6.6" fill="#333" text-anchor="middle" >-10</text>
<path d="M454.2 314.4V316.59999999999997" stroke="#777" stroke-width="0.9"/>
<text x="454.20" y="324.60" font-size="6.6" fill="#333" text-anchor="middle" >-9</text>
<path d="M477.7 314.4V316.59999999999997" stroke="#777" stroke-width="0.9"/>
<text x="477.70" y="324.60" font-size="6.6" fill="#333" text-anchor="middle" >-8</text>
<path d="M501.2 314.4V316.59999999999997" stroke="#777" stroke-width="0.9"/>
<text x="501.20" y="324.60" font-size="6.6" fill="#333" text-anchor="middle" >-7</text>
<text x="428.10" y="216.90" font-size="8.2" font-weight="bold" textLength="25" lengthAdjust="spacingAndGlyphs" >KMS11</text>
<text x="368.80" y="265.20" font-size="7" font-weight="bold" text-anchor="middle" textLength="28.4" lengthAdjust="spacingAndGlyphs" transform="rotate(-90 368.80 265.20)" >Viability</text>
<text x="425.80" y="335.60" font-size="7.8" font-weight="bold" textLength="34" lengthAdjust="spacingAndGlyphs" xml:space="preserve">Dex  Log M</text>
<polyline points="407.50,254.01 408.87,254.01 410.23,254.01 411.60,254.01 412.96,254.02 414.32,254.02 415.69,254.02 417.06,254.03 418.42,254.03 419.78,254.04 421.15,254.05 422.51,254.06 423.88,254.07 425.25,254.08 426.61,254.10 427.97,254.11 429.34,254.14 430.70,254.16 432.07,254.19 433.44,254.23 434.80,254.27 436.17,254.32 437.53,254.38 438.89,254.45 440.26,254.53 441.62,254.63 442.99,254.75 444.36,254.89 445.72,255.05 447.08,255.25 448.45,255.48 449.81,255.76 451.18,256.08 452.54,256.47 453.91,256.93 455.27,257.47 456.64,258.12 458.00,258.89 459.37,259.79 460.74,260.87 462.10,262.15 463.46,263.66 464.83,265.45 466.19,267.56 467.56,270.05 468.92,272.96 470.29,276.34 471.65,280.19 473.02,284.47 474.38,289.02 475.75,293.57 477.12,297.75 478.48,301.23 479.84,303.85 481.21,305.65 482.57,306.81 483.94,307.51 485.30,307.93 486.67,308.17 488.03,308.31 489.40,308.39" fill="none" stroke="#3434b8" stroke-width="1.0"/>
<polyline points="407.50,254.31 408.87,254.31 410.23,254.31 411.60,254.31 412.96,254.32 414.32,254.32 415.69,254.32 417.06,254.33 418.42,254.33 419.78,254.34 421.15,254.34 422.51,254.35 423.88,254.36 425.25,254.37 426.61,254.39 427.97,254.40 429.34,254.42 430.70,254.45 432.07,254.47 433.44,254.51 434.80,254.54 436.17,254.59 437.53,254.64 438.89,254.71 440.26,254.78 441.62,254.87 442.99,254.98 444.36,255.11 445.72,255.26 447.08,255.44 448.45,255.65 449.81,255.90 451.18,256.20 452.54,256.55 453.91,256.97 455.27,257.46 456.64,258.05 458.00,258.75 459.37,259.58 460.74,260.56 462.10,261.72 463.46,263.10 464.83,264.74 466.19,266.67 467.56,268.94 468.92,271.61 470.29,274.73 471.65,278.32 473.02,282.37 474.38,286.78 475.75,291.35 477.12,295.74 478.48,299.60 479.84,302.65 481.21,304.84 482.57,306.29 483.94,307.20 485.30,307.75 486.67,308.07 488.03,308.25 489.40,308.36" fill="none" stroke="#3c9c48" stroke-width="1.0"/>
<polyline points="407.50,254.61 408.87,254.61 410.23,254.61 411.60,254.61 412.96,254.61 414.32,254.62 415.69,254.62 417.06,254.62 418.42,254.63 419.78,254.63 421.15,254.64 422.51,254.65 423.88,254.65 425.25,254.66 426.61,254.68 427.97,254.69 429.34,254.71 430.70,254.73 432.07,254.75 433.44,254.78 434.80,254.81 436.17,254.85 437.53,254.90 438.89,254.95 440.26,255.02 441.62,255.10 442.99,255.19 444.36,255.30 445.72,255.43 447.08,255.58 448.45,255.76 449.81,255.98 451.18,256.24 452.54,256.54 453.91,256.91 455.27,257.33 456.64,257.84 458.00,258.45 459.37,259.16 460.74,260.01 462.10,261.01 463.46,262.21 464.83,263.62 466.19,265.29 467.56,267.26 468.92,269.59 470.29,272.32 471.65,275.48 473.02,279.11 474.38,283.16 475.75,287.51 477.12,291.90 478.48,296.01 479.84,299.49 481.21,302.15 482.57,304.01 483.94,305.22 485.30,305.96 486.67,306.40 488.03,306.66 489.40,306.80" fill="none" stroke="#c83030" stroke-width="1.1"/>
<circle cx="407.5" cy="253.9" r="0.9" fill="#b02020"/>
<circle cx="461.7" cy="261.8" r="0.9" fill="#902030"/>
<circle cx="468.3" cy="267.8" r="0.9" fill="#c02020"/>
<circle cx="474.9" cy="285.4" r="0.9" fill="#c02020"/>
<circle cx="482.6" cy="304.8" r="0.9" fill="#3a9a40"/>
<circle cx="489.3" cy="306.5" r="0.9" fill="#c02020"/>
<circle cx="489.3" cy="308.3" r="0.9" fill="#3a9a40"/>
<circle cx="455.5" cy="256.2" r="0.9" fill="#2b2bd0"/>
<circle cx="480.5" cy="226.3" r="1.0" fill="#a01830"/>
<text x="487.70" y="228.60" font-size="6.6" fill="#222" textLength="18.3" lengthAdjust="spacingAndGlyphs" >KMS11</text>
<circle cx="480.5" cy="236.85000000000002" r="1.0" fill="#5a9a5a"/>
<text x="487.70" y="239.15" font-size="6.6" fill="#222" textLength="22.4" lengthAdjust="spacingAndGlyphs" >CDK5 wt</text>
<circle cx="480.5" cy="247.4" r="1.0" fill="#202048"/>
<text x="487.70" y="249.70" font-size="6.6" fill="#222" textLength="26.5" lengthAdjust="spacingAndGlyphs" >CDK5 dn</text>
</svg></body></html>
